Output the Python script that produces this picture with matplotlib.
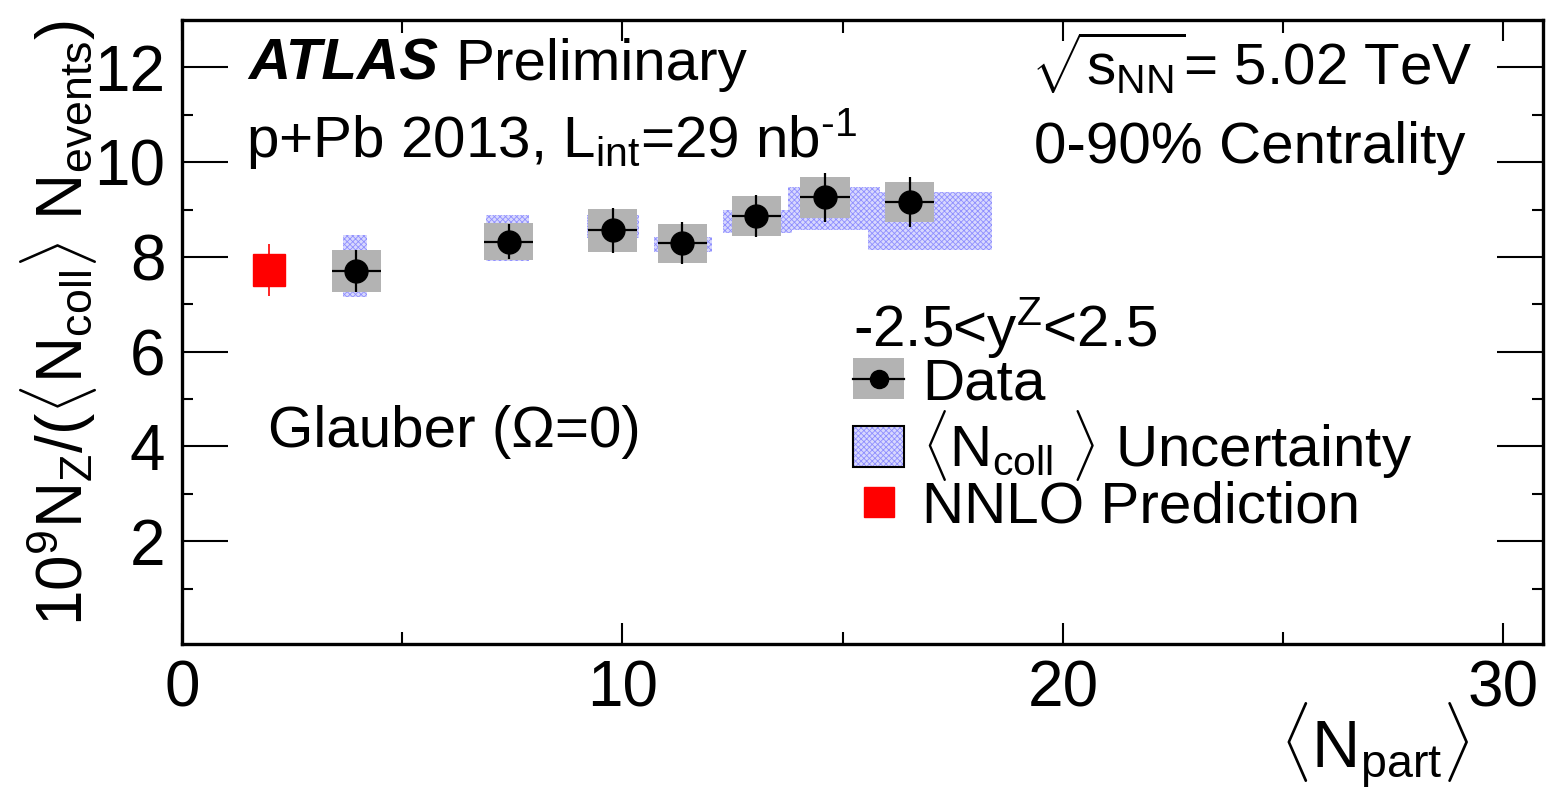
""" Z boson yield per binary collision vs <Npart>, p+Pb 5.02 TeV
"""
import matplotlib
matplotlib.use('Agg')
import matplotlib.pyplot as plt
from matplotlib.patches import Patch
from matplotlib.lines import Line2D
from matplotlib.legend_handler import HandlerTuple
import numpy as np

# data points
npart = [3.96, 7.42, 9.78, 11.36, 13.04, 14.60, 16.52]
npart_err = [0.56, 0.56, 0.56, 0.56, 0.56, 0.56, 0.56]
yields = [7.70, 8.32, 8.56, 8.29, 8.86, 9.26, 9.16]
stat_err = [0.44, 0.37, 0.47, 0.44, 0.44, 0.52, 0.53]
sys_err = [0.44, 0.39, 0.46, 0.41, 0.42, 0.43, 0.43]

# <Ncoll> uncertainty boxes (edges)
ncoll_xlo = [3.65, 6.90, 9.19, 10.71, 12.28, 13.75, 15.57]
ncoll_xhi = [4.20, 7.87, 10.37, 12.03, 13.86, 15.84, 18.40]
ncoll_ylo = [7.15, 7.91, 8.39, 8.10, 8.50, 8.56, 8.14]
ncoll_yhi = [8.46, 8.88, 8.88, 8.43, 9.00, 9.47, 9.36]

# NNLO prediction
nnlo_x = [1.97]
nnlo_y = [7.72]
nnlo_err = [0.55]

plt.rcParams['font.family'] = ['Liberation Sans', 'DejaVu Sans']
plt.rcParams['mathtext.fontset'] = 'custom'
plt.rcParams['mathtext.rm'] = 'Liberation Sans'
plt.rcParams['mathtext.it'] = 'Liberation Sans:italic'
plt.rcParams['mathtext.bf'] = 'Liberation Sans:bold'
plt.rcParams['hatch.linewidth'] = 0.6

GRAY = '#b3b3b3'
BLUE_FACE = '#d8d8fd'
BLUE_HATCH = '#8f8fff'
TXT = 42

fig = plt.figure(figsize=(15.51, 7.90), dpi=100)
ax = fig.add_axes([182 / 1551, 146 / 790, 1361 / 1551, 624 / 790])

npart = np.array(npart)
yields = np.array(yields)
sys_err = np.array(sys_err)
npart_err = np.array(npart_err)

# Ncoll uncertainty
ax.bar(ncoll_xlo, np.subtract(ncoll_yhi, ncoll_ylo), width=np.subtract(ncoll_xhi, ncoll_xlo),
       bottom=ncoll_ylo, align='edge', facecolor=BLUE_FACE, edgecolor=BLUE_HATCH,
       hatch='xxxxxx', linewidth=0, zorder=1)
# systematic boxes
ax.bar(npart, 2 * sys_err, width=2 * npart_err, bottom=yields - sys_err,
       color=GRAY, linewidth=0, zorder=2)
# data with stat errors
ax.errorbar(npart, yields, yerr=stat_err, xerr=npart_err, fmt='o', color='black',
            ms=16.5, elinewidth=1.6, capsize=0, zorder=3)
# NNLO
ax.errorbar(nnlo_x, nnlo_y, yerr=nnlo_err, fmt='s', color='red', ms=22.5,
            elinewidth=1.2, capsize=0, zorder=3)

ax.set_xlim(0, 30.9)
ax.set_ylim(-0.17, 13.0)
ax.set_xticks([0, 10, 20, 30])
ax.set_xticks([5, 15, 25], minor=True)
ax.set_yticks([2, 4, 6, 8, 10, 12])
ax.set_yticks([1, 3, 5, 7, 9, 11], minor=True)
ax.tick_params(axis='both', which='both', direction='in', top=True, right=True,
               width=1.5, labelsize=46)
ax.tick_params(axis='y', which='major', length=33, pad=12)
ax.tick_params(axis='y', which='minor', length=8)
ax.tick_params(axis='x', which='major', length=15, pad=11)
ax.tick_params(axis='x', which='minor', length=9)
for sp in ax.spines.values():
    sp.set_linewidth(2.4)

ax.set_ylabel(r'$10^{9}\mathrm{N_{Z}/(\langle N_{coll}\rangle\ N_{events})}$',
              fontsize=46, loc='top')
ax.yaxis.set_label_coords(-0.061, 1.0)
ax.set_xlabel(r'$\langle\mathrm{N_{part}}\rangle$', fontsize=48, loc='right')
ax.xaxis.set_label_coords(0.946, -0.09)

# labels
ax.text(0.0485, 0.904, 'ATLAS', transform=ax.transAxes, fontsize=TXT,
        fontweight='bold', fontstyle='italic', va='baseline')
ax.text(0.2006, 0.904, 'Preliminary', transform=ax.transAxes, fontsize=TXT, va='baseline')
ax.text(0.047, 0.780, 'p+Pb 2013, L$_{\\mathrm{int}}$=29 nb$^{\\mathrm{\u20101}}$',
        transform=ax.transAxes, fontsize=TXT, va='baseline')
ax.text(0.948, 0.896, r'$\sqrt{\mathrm{s_{NN}}}$= 5.02 TeV', transform=ax.transAxes,
        fontsize=TXT, va='baseline', ha='right')
ax.text(0.943, 0.771, '0-90% Centrality', transform=ax.transAxes, fontsize=TXT,
        va='baseline', ha='right')
ax.text(0.063, 0.316, 'Glauber (\u03a9=0)', transform=ax.transAxes, fontsize=TXT,
        va='baseline')

# legend
h_data = (Patch(facecolor=GRAY, linewidth=0),
          Line2D([], [], color='black', marker='o', ms=13, lw=1.6))
h_ncoll = (Patch(facecolor=BLUE_FACE, edgecolor=BLUE_HATCH, hatch='xxxxxx', linewidth=0),
           Patch(facecolor='none', edgecolor='black', linewidth=1.5))
h_nnlo = Line2D([], [], color='red', marker='s', ms=22, lw=0)
leg = ax.legend([h_data, h_ncoll, h_nnlo],
                ['Data', r'$\langle\mathrm{N_{coll}}\ \rangle$ Uncertainty', 'NNLO Prediction'],
                handler_map={tuple: HandlerTuple(ndivide=1, pad=0)},
                title=r'-2.5<y$^{\mathrm{Z}}$<2.5', title_fontsize=TXT, fontsize=TXT,
                frameon=False, loc='upper left', bbox_to_anchor=(0.493, 0.559),
                alignment='left', borderpad=0, borderaxespad=0, handlelength=0.88,
                handleheight=0.7, handletextpad=0.3, labelspacing=-0.05)

plt.savefig('out.png', dpi=100)
plt.close()
